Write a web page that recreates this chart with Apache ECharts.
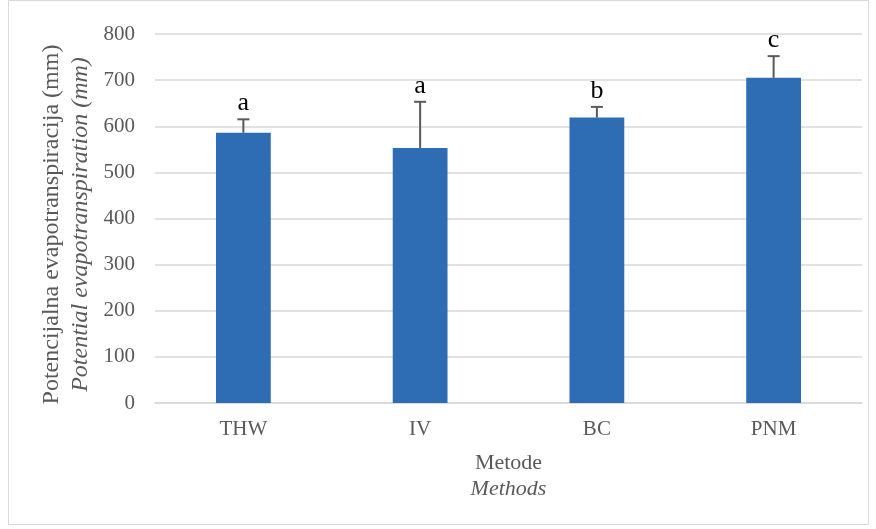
<!DOCTYPE html>
<html>
<head>
<meta charset="utf-8">
<script src="https://cdn.jsdelivr.net/npm/echarts@6/dist/echarts.min.js"></script>
<style>
  html, body { margin: 0; padding: 0; background: #fff; }
  #main { width: 876px; height: 529px; }
</style>
</head>
<body>
<div id="main"></div>
<script>
// data
var methods = ['THW', 'IV', 'BC', 'PNM'];
var petValues = [586, 553, 619, 705];
var errTops = [615, 653, 642, 752];
var letters = ['a', 'a', 'b', 'c'];

var serif = '"Liberation Serif", "DejaVu Serif", serif';
var chart = echarts.init(document.getElementById('main'));

var errData = methods.map(function (m, i) {
  return [i, petValues[i], errTops[i]];
});

var option = {
  animation: false,
  backgroundColor: '#fff',
  graphic: [{
    type: 'rect',
    shape: { x: 8.5, y: 0.5, width: 860, height: 524 },
    style: { fill: 'none', stroke: '#d9d9d9', lineWidth: 1 }
  }],
  grid: { left: 155, right: 14, top: 34, bottom: 126 },
  xAxis: {
    type: 'category',
    data: methods,
    name: '{a|Metode}\n{b|Methods}',
    nameLocation: 'middle',
    nameGap: 47,
    nameTextStyle: {
      rich: {
        a: { fontFamily: serif, fontSize: 22, color: '#595959', lineHeight: 26 },
        b: { fontFamily: serif, fontSize: 22, color: '#595959', fontStyle: 'italic', lineHeight: 26 }
      }
    },
    axisLine: { lineStyle: { color: '#d9d9d9', width: 1.5 } },
    axisTick: { show: false },
    axisLabel: { fontFamily: serif, fontSize: 21, color: '#595959', margin: 16 }
  },
  yAxis: {
    type: 'value',
    min: 0,
    max: 800,
    interval: 100,
    name: '{a|Potencijalna evapotranspiracija (mm)}\n{b|Potential evapotranspiration (mm)}',
    nameLocation: 'middle',
    nameGap: 56,
    nameTextStyle: {
      padding: [0, 12, 0, 0],
      rich: {
        a: { fontFamily: serif, fontSize: 24, color: '#595959', lineHeight: 29 },
        b: { fontFamily: serif, fontSize: 24, color: '#595959', fontStyle: 'italic', lineHeight: 29 }
      }
    },
    axisLine: { show: false },
    axisTick: { show: false },
    axisLabel: { fontFamily: serif, fontSize: 21, color: '#595959', margin: 20 },
    splitLine: { lineStyle: { color: '#d9d9d9', width: 1.5 } }
  },
  series: [{
    type: 'bar',
    data: petValues,
    barWidth: '31%',
    itemStyle: { color: '#2e6db4' },
    z: 2
  }, {
    type: 'custom',
    data: errData,
    z: 3,
    renderItem: function (params, api) {
      var base = api.coord([api.value(0), api.value(1)]);
      var top = api.coord([api.value(0), api.value(2)]);
      var style = { stroke: '#595959', lineWidth: 2 };
      return {
        type: 'group',
        children: [{
          type: 'line',
          shape: { x1: base[0], y1: base[1], x2: top[0], y2: top[1] },
          style: style
        }, {
          type: 'line',
          shape: { x1: top[0] - 6, y1: top[1], x2: top[0] + 6, y2: top[1] },
          style: style
        }, {
          type: 'text',
          x: top[0],
          y: top[1] - 3,
          style: {
            text: letters[params.dataIndex],
            fontFamily: serif,
            fontSize: 26,
            fill: '#000',
            align: 'center',
            verticalAlign: 'bottom'
          }
        }]
      };
    }
  }]
};

chart.setOption(option);
</script>
</body>
</html>
